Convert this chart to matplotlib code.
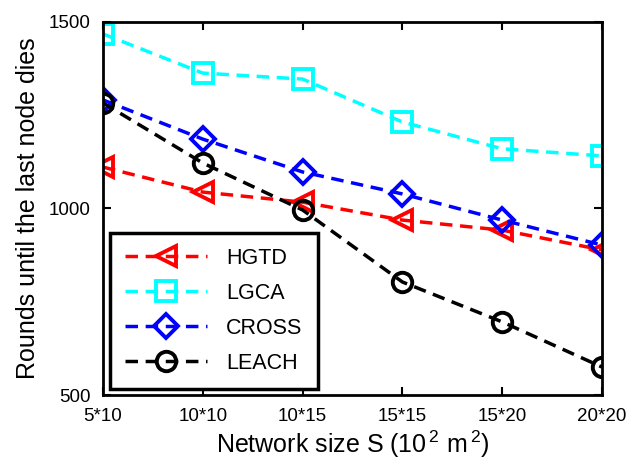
import numpy as np
import matplotlib
matplotlib.use("Agg")
import matplotlib.pyplot as plt

plt.rcParams['font.family'] = ['Liberation Sans', 'DejaVu Sans']
plt.rcParams['mathtext.default'] = 'regular'

sizes = ['5*10', '10*10', '10*15', '15*15', '15*20', '20*20']
hgtd = [1111, 1044, 1017, 969, 942, 889]
lgca = [1468, 1363, 1347, 1232, 1160, 1141]
cross = [1291, 1186, 1098, 1039, 969, 902]
leach = [1283, 1122, 996, 803, 696, 575]

x = np.arange(len(sizes))

fig = plt.figure(figsize=(6.27, 4.61), dpi=100)
ax = fig.add_axes([103 / 627, 1 - 395 / 461, 499 / 627, 373 / 461])

style = dict(linestyle='--', linewidth=2.5, markersize=14, markeredgewidth=2.8,
             markerfacecolor='none', dashes=(3.6, 2.2))
ax.plot(x, hgtd, color='#ff0000', marker='<', label='HGTD', **dict(style, markersize=15))
ax.plot(x, lgca, color='#00ffff', marker='s', label='LGCA', **style)
ax.plot(x, cross, color='#0000ff', marker='D', label='CROSS', **dict(style, markersize=12))
ax.plot(x, leach, color='#000000', marker='o', label='LEACH', **style)

ax.set_xlim(0, 5)
ax.set_ylim(500, 1500)
ax.set_xticks(x)
ax.set_xticklabels(sizes)
ax.set_yticks([500, 1000, 1500])
ax.tick_params(direction='in', top=True, right=True, length=6, width=1.5,
               labelsize=13.5, pad=9)
for s in ax.spines.values():
    s.set_linewidth(2)

ax.set_xlabel(r'Network size S (10$^{\,2}$ m$^{\,2}$)', fontsize=18, labelpad=3)
ax.set_ylabel('Rounds until the last node dies', fontsize=18, labelpad=6)

leg = ax.legend(loc='lower left', bbox_to_anchor=(7 / 499, 6 / 373), borderaxespad=0,
                fontsize=15.5, fancybox=False, edgecolor='black', framealpha=1,
                handlelength=3.8, labelspacing=0.65, borderpad=0.7,
                handletextpad=0.9)
leg.get_frame().set_linewidth(2.5)

fig.savefig('out.png', dpi=100)
